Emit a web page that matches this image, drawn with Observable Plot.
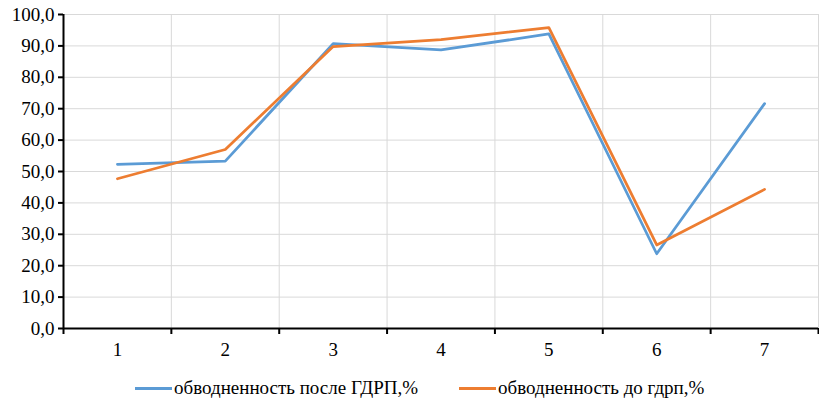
<!DOCTYPE html>
<html>
<head>
<meta charset="utf-8">
<script src="https://cdn.jsdelivr.net/npm/d3@7"></script>
<script src="https://cdn.jsdelivr.net/npm/@observablehq/plot@0.6"></script>
<style>
  body { margin: 0; background: #fff; font-family: "Liberation Serif", "Times New Roman", serif; }
  #legend { position: relative; height: 42px; width: 819px; font-size: 19px; color: #000; }
  .item { position: absolute; top: 17px; display: flex; align-items: center; white-space: nowrap; line-height: 22px; }
  .sw { display: inline-block; width: 37px; height: 3px; margin-right: 2px; }
  svg text { font-family: "Liberation Serif", "Times New Roman", serif; }
</style>
</head>
<body>
<div id="chart"></div>
<div id="legend"></div>
<script>
const categories = [1, 2, 3, 4, 5, 6, 7];
const afterFrac = [52.3, 53.3, 90.7, 88.7, 93.8, 23.8, 71.6];
const beforeFrac = [47.7, 57.0, 89.8, 92.0, 95.8, 26.6, 44.3];
const yTicks = [0, 10, 20, 30, 40, 50, 60, 70, 80, 90, 100];
const seriesNames = ["обводненность после ГДРП,%", "обводненность до гдрп,%"];
const seriesColors = ["#5B9BD5", "#ED7D31"];

const rows = [];
categories.forEach((c, i) => {
  rows.push({x: c, y: afterFrac[i], s: seriesNames[0]});
  rows.push({x: c, y: beforeFrac[i], s: seriesNames[1]});
});
const boundaries = categories.map(c => c + 0.5);
const edges = [categories[0] - 0.5, ...boundaries];
const serif = "'Liberation Serif', 'Times New Roman', serif";

const chart = Plot.plot({
  width: 819,
  height: 360,
  marginLeft: 63,
  marginRight: 1,
  marginTop: 14,
  marginBottom: 32,
  style: {fontFamily: serif, fontSize: "19px", color: "#000", background: "#fff"},
  x: {domain: [categories[0] - 0.5, categories[categories.length - 1] + 0.5], axis: null, label: null},
  y: {domain: [0, 100], axis: null, label: null},
  color: {domain: seriesNames, range: seriesColors},
  marks: [
    Plot.ruleY(yTicks.slice(1), {stroke: "#d9d9d9", strokeWidth: 1}),
    Plot.ruleX(boundaries, {stroke: "#d9d9d9", strokeWidth: 1}),
    Plot.line(rows, {x: "x", y: "y", z: "s", stroke: "s", strokeWidth: 2.75}),
    Plot.axisY(yTicks, {tickSize: 5, tickPadding: 4, strokeWidth: 2, stroke: "#000", label: null,
      tickFormat: d => d.toFixed(1).replace(".", ","), fontSize: 19, fontFamily: serif}),
    Plot.axisX(edges, {tickSize: 6, strokeWidth: 2, stroke: "#000", label: null, tickFormat: () => ""}),
    Plot.axisX(categories, {tickSize: 0, tickPadding: 14, label: null, tickFormat: d => String(d), fontSize: 19, fontFamily: serif}),
    Plot.ruleY([0], {stroke: "#000", strokeWidth: 2}),
    Plot.ruleX([categories[0] - 0.5], {stroke: "#000", strokeWidth: 2})
  ]
});
document.getElementById("chart").appendChild(chart);

const legend = document.getElementById("legend");
const lefts = [135, 459];
seriesNames.forEach((n, i) => {
  const it = document.createElement("div");
  it.className = "item";
  it.style.left = lefts[i] + "px";
  it.innerHTML = `<span class="sw" style="background:${seriesColors[i]}"></span><span>${n}</span>`;
  legend.appendChild(it);
});
</script>
</body>
</html>
